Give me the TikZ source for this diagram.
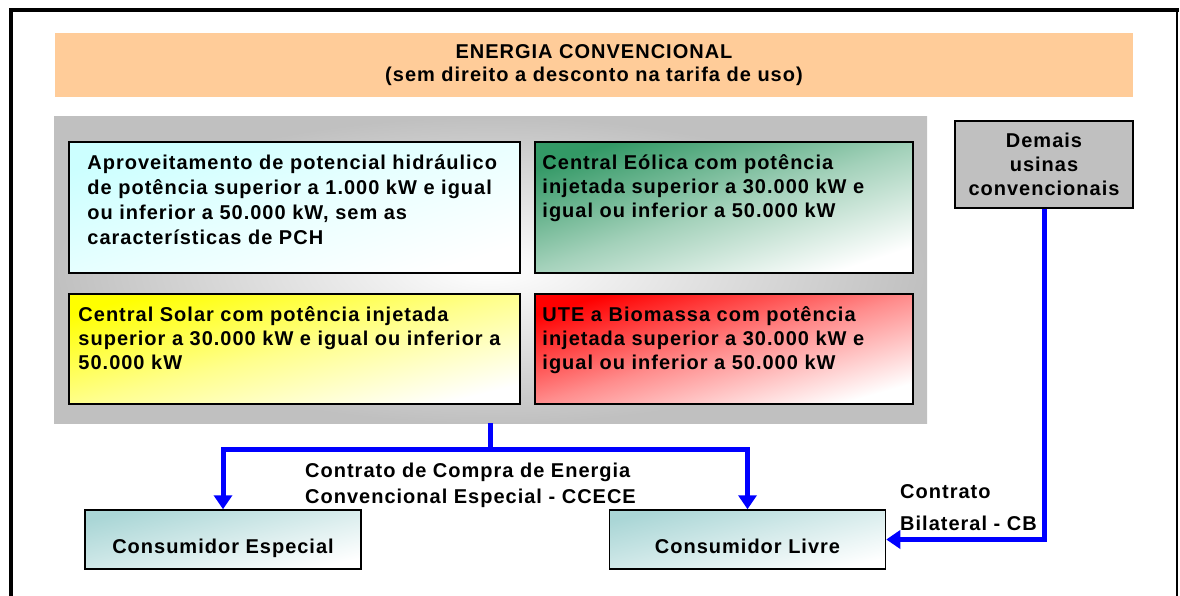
\documentclass[tikz,border=0pt]{standalone}
\usepackage{fontspec}
\newfontfamily\diagfont{Liberation Sans}[LetterSpace=5]
\usetikzlibrary{shapes,arrows.meta,positioning,calc}
\definecolor{convorange}{RGB}{255,204,153}
\definecolor{convgray}{RGB}{192,192,192}
\definecolor{hidrocyan}{RGB}{204,255,255}
\definecolor{eolgreen}{RGB}{51,153,102}
\definecolor{solyellow}{RGB}{255,255,0}
\definecolor{biored}{RGB}{255,0,0}
\definecolor{consteal}{RGB}{170,214,214}
\definecolor{ctrblue}{RGB}{0,0,255}
\tikzset{
  txt/.style={font=\diagfont\bfseries\fontsize{20}{25}\selectfont, inner sep=0pt, align=left},
  usina/.style={draw=black, line width=1.5pt, inner sep=0pt, minimum height=131pt,
    top color=#1, bottom color=white, middle color=#1!45!white, shading angle=18},
  consumidor/.style={draw=black, line width=1.5pt, minimum width=276pt, minimum height=59pt,
    top color=consteal, bottom color=white, shading angle=14,
    font=\diagfont\bfseries\fontsize{20}{25}\selectfont, text height=28pt, text depth=0pt},
  ctrarrow/.style={draw=ctrblue, line width=5pt, -{Triangle[width=18pt,length=14pt]}}
}
\begin{document}
\begin{tikzpicture}[x=1pt, y=-1pt]
    \useasboundingbox (0,0) rectangle (1180,596);
    % moldura
    \draw[line width=4pt] (11,596) -- (11,10.5) -- (1179,10.5);
    \draw[line width=2.5pt] (1177,10.5) -- (1177,596);
    % titulo
    \node[fill=convorange, minimum width=1078pt, minimum height=64pt, align=center,
      font=\diagfont\bfseries\fontsize{20}{23}\selectfont] (titulo) at (594,65)
      {ENERGIA CONVENCIONAL\\(sem direito a desconto na tarifa de uso)};
    % painel cinza
    \node[inner color=white, outer color=convgray, minimum width=873pt, minimum height=306pt] (panel) at (490.5,270) {};
    \node[usina=hidrocyan, minimum width=451pt] (hidro) at (294.5,207.5) {};
    \node[usina=eolgreen, minimum width=378pt] (eolica) at (724,207.5) {};
    \node[usina=solyellow, minimum width=451pt, minimum height=110pt, shading angle=14] (solar) at (294.5,349) {};
    \node[usina=biored, minimum width=378pt, minimum height=110pt, shading angle=16] (biomassa) at (724,349) {};
    \node[txt, below right=13pt and 19pt of hidro.north west] (hidro-txt)
      {Aproveitamento de potencial hidráulico\\de potência superior a 1.000 kW e igual\\ou inferior a 50.000 kW, sem as\\características de PCH};
    \node[txt, below right=13pt and 8pt of eolica.north west, font=\diagfont\bfseries\fontsize{20}{24}\selectfont] (eolica-txt)
      {Central Eólica com potência\\injetada superior a 30.000 kW e\\igual ou inferior a 50.000 kW};
    \node[txt, below right=13pt and 10pt of solar.north west, font=\diagfont\bfseries\fontsize{20}{24}\selectfont] (solar-txt)
      {Central Solar com potência injetada\\superior a 30.000 kW e igual ou inferior a\\50.000 kW};
    \node[txt, below right=13pt and 8pt of biomassa.north west, font=\diagfont\bfseries\fontsize{20}{24}\selectfont] (biomassa-txt)
      {UTE a Biomassa com potência\\injetada superior a 30.000 kW e\\igual ou inferior a 50.000 kW};
    % demais usinas
    \node[draw=black, line width=1.5pt, fill=convgray, minimum width=178pt, minimum height=87pt, align=center,
      font=\diagfont\bfseries\fontsize{20}{24}\selectfont] (demais) at (1044,164.5)
      {Demais\\usinas\\convencionais};
    % consumidores
    \node[consumidor] (especial) at (223,539.5) {Consumidor Especial};
    \node[consumidor] (livre) at (747.5,539.5) {Consumidor Livre};
    % contratos
    \draw[ctrarrow] (panel.south) -- ++(0,26) -| (especial.north);
    \draw[ctrarrow] (panel.south) -- ++(0,26) -| (livre.north);
    \draw[ctrarrow] (demais.south) |- (livre.east);
    \node[txt, anchor=north west, font=\diagfont\bfseries\fontsize{20}{26}\selectfont] (ccece) at (305,463)
      {Contrato de Compra de Energia\\Convencional Especial - CCECE};
    \node[txt, anchor=north west, font=\diagfont\bfseries\fontsize{20}{32}\selectfont] (cb) at (900,484)
      {Contrato\\Bilateral - CB};
\end{tikzpicture}
\end{document}
